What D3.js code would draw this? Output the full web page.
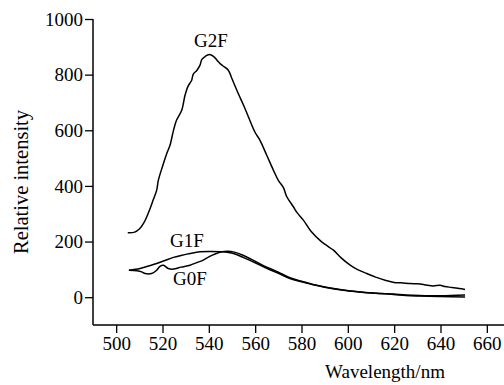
<!DOCTYPE html>
<html><head><meta charset="utf-8">
<script src="https://cdn.jsdelivr.net/npm/d3@7"></script>
<style>body{margin:0;background:#fff}svg{display:block}</style>
</head><body>
<svg id="c" width="504" height="385"></svg>
<script>
const xTicks = [500,520,540,560,580,600,620,640,660];
const yTicks = [0,200,400,600,800,1000];
const g2fWave = [505,508,510,512,514,516,517.5,518.2,520,522,523.2,524.7,526,528.3,529.7,531,532.6,533.3,534.8,536.2,537,538.5,540.2,542,543.5,544.8,546,548.4,550,552.7,555,557.1,560,562.1,565,567.9,570,572.2,573.6,576.5,578,580.8,584,588.7,591,593.8,597,601,604,608.2,612,616.1,620,623,626.9,630,633,636.9,639.8,642,645,648,650.6];
const g2fVal = [232,234,245,268,305,350,385,420,470,520,545,598,635,672,725,758,780,802,815,834,855,866,872,866,852,840,832,816,785,732,690,648,592,564,510,456,420,394,362,325,305,277,238,199,185,169,142,115,100,85,72,61,53,52,49,48,45,40,43,38,35,31,28];
const g1fWave = [505.5,510.3,514,517.5,521,524.7,528,531.9,536.2,540.5,545.6,550.6,555,560.7,565,570,575,580,585,590,598,605,612,619.7,625,631,640,650.6];
const g1fVal = [97,103,112,121,132,143,150,157,163,164,163,157,142,121,104,86,67,55,45,36,25,19,14,11,8,6,5,8];
const g0fWave = [505.5,509,511,512.5,515.3,517.5,518.9,520.4,522.5,524.7,528,531.9,535,537.6,540,542.7,545.6,548,551,555,560.7,565,570,575,580,585,590,598,605,612,619.7,625,631,640,650.6];
const g0fVal = [97,95,91,85,85,97,111,115,103,101,108,115,125,133,145,155,163,165,162,150,126,108,90,70,57,46,37,26,19,14,10,6,4,2,1];
const labels = ["G2F","G1F","G0F"];

const FONT = "'Liberation Serif', 'DejaVu Serif', serif";
const svg = d3.select("#c");
const x = d3.scaleLinear().domain([490, 670]).range([93, 510]);
const y = d3.scaleLinear().domain([-100, 1000]).range([325, 19]);

const xa = svg.append("g").attr("transform","translate(0,325)")
  .call(d3.axisBottom(x).tickValues(xTicks).tickSize(8).tickPadding(4).tickFormat(d3.format("d")));
const ya = svg.append("g").attr("transform","translate(93,0)")
  .call(d3.axisLeft(y).tickValues(yTicks).tickSize(8).tickPadding(2).tickFormat(d3.format("d")));
[xa,ya].forEach(a=>{
  a.attr("font-family", FONT).attr("font-size", 19);
  a.select(".domain").attr("stroke","#000").attr("stroke-width",1.5);
  a.selectAll(".tick line").attr("stroke","#000").attr("stroke-width",1.3);
  a.selectAll("text").attr("fill","#000");
});
ya.select(".domain").attr("d", `M0,${y(1000)}V${y(-100)}`);
xa.select(".domain").attr("d", `M${x(490)},0H${x(670)}`);

const line = d3.line().x(d=>x(d[0])).y(d=>y(d[1])).curve(d3.curveCatmullRom.alpha(0.5));
const series = [[g2fWave,g2fVal],[g1fWave,g1fVal],[g0fWave,g0fVal]];
series.forEach(([w,v])=>{
  svg.append("path").attr("d", line(w.map((d,i)=>[d,v[i]])))
    .attr("fill","none").attr("stroke","#000").attr("stroke-width",1.5);
});

const labPos = [[211,47],[187,247],[190,285]];
labels.forEach((t,i)=>{
  svg.append("text").attr("x",labPos[i][0]).attr("y",labPos[i][1]).attr("text-anchor","middle")
    .attr("font-family",FONT).attr("font-size",19).text(t);
});

svg.append("text").attr("x",385).attr("y",378).attr("text-anchor","middle")
  .attr("font-family",FONT).attr("font-size",19).text("Wavelength/nm");
svg.append("text").attr("transform","translate(28,182) rotate(-90)").attr("text-anchor","middle")
  .attr("font-family",FONT).attr("font-size",20.5).text("Relative intensity");
</script>
</body></html>
